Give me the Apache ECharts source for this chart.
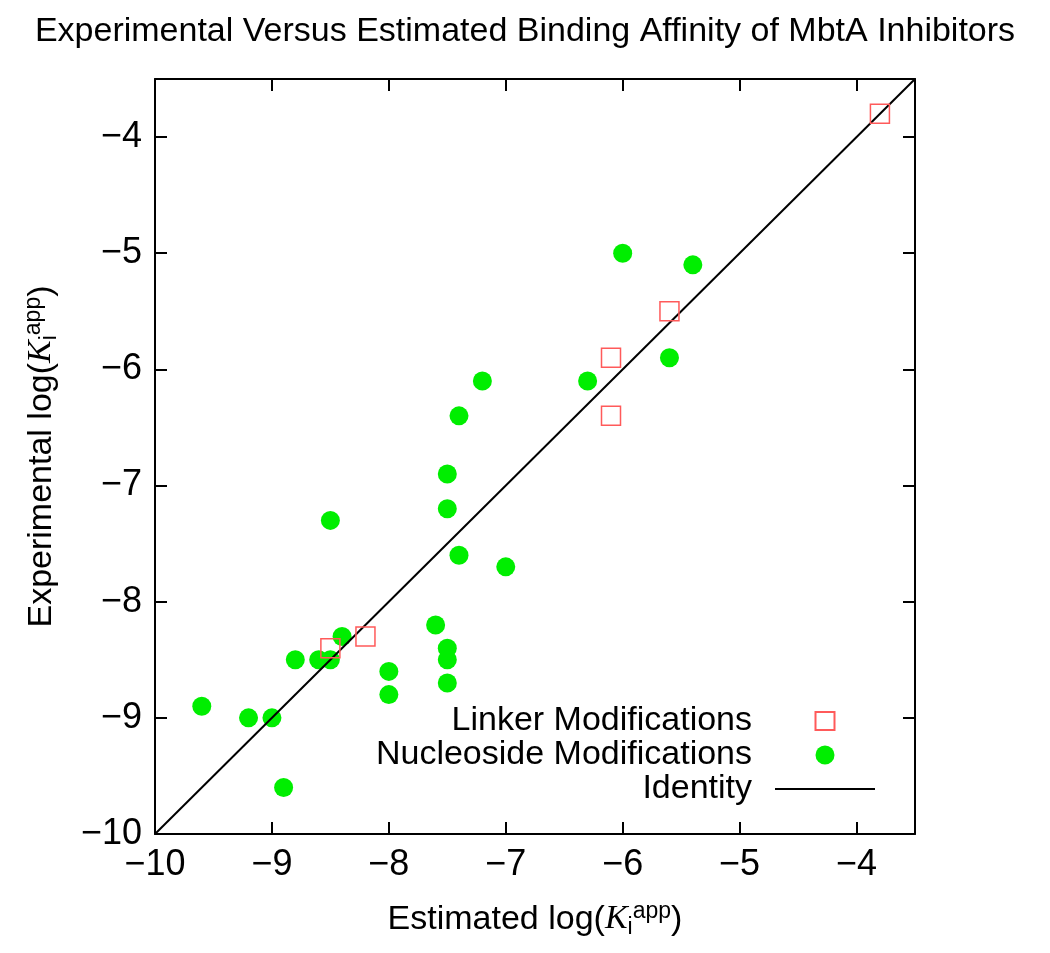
<!DOCTYPE html>
<html>
<head>
<meta charset="utf-8">
<script src="https://cdn.jsdelivr.net/npm/echarts@6/dist/echarts.min.js"></script>
<style>
html,body{margin:0;padding:0;background:#fff;}
#chart{width:1050px;height:953px;}
</style>
</head>
<body>
<div id="chart"></div>
<script>
// Data
var titleText = 'Experimental Versus Estimated Binding Affinity of MbtA Inhibitors';
var xTicks = [-10, -9, -8, -7, -6, -5, -4];
var yTicks = [-10, -9, -8, -7, -6, -5, -4];
var axisMin = -10;
var axisMax = -3.5;

var linkerX = [-8.5, -8.2, -6.1, -6.1, -5.6, -3.8];
var linkerY = [-8.4, -8.3, -5.9, -6.4, -5.5, -3.8];

var nucleosideX = [-6.0, -5.4, -5.6, -7.2, -6.3, -7.4, -7.5, -7.5, -8.5, -7.4, -7.0, -7.6, -8.4, -7.5, -7.5, -7.5, -8.8, -8.6, -8.5, -8.0, -8.0, -9.6, -9.2, -9.0, -8.9];
var nucleosideY = [-5.0, -5.1, -5.9, -6.1, -6.1, -6.4, -6.9, -7.2, -7.3, -7.6, -7.7, -8.2, -8.3, -8.4, -8.5, -8.7, -8.5, -8.5, -8.5, -8.6, -8.8, -8.9, -9.0, -9.0, -9.6];

var identityX = [-10, -3.5];
var identityY = [-10, -3.5];

var seriesNames = ['Linker Modifications', 'Nucleoside Modifications', 'Identity'];

function zip(a, b) { return a.map(function (v, i) { return [v, b[i]]; }); }
function fmt(v) { return String(v).replace('-', '\u2212'); }

var FONT = '"Liberation Sans", Arial, Helvetica, sans-serif';

var nameRich = {
  n: { fontSize: 34, fontFamily: FONT, color: '#000' },
  k: { fontSize: 34, fontFamily: '"Liberation Serif", serif', fontStyle: 'italic', color: '#000' },
  sub: { fontSize: 23, fontFamily: FONT, color: '#000', verticalAlign: 'bottom', padding: [14, 0, 0, 0] },
  sup: { fontSize: 23, fontFamily: FONT, color: '#000', verticalAlign: 'top', padding: [0, 0, 16, 0] }
};

var baseAxis = {
  type: 'value',
  min: axisMin,
  max: axisMax,
  interval: 1,
  axisLine: { show: true, onZero: false, lineStyle: { color: '#000', width: 2 } },
  axisTick: { show: true, inside: true, length: 12, lineStyle: { color: '#000', width: 2 } },
  splitLine: { show: false },
  axisLabel: {
    fontSize: 36, fontFamily: FONT, color: '#000', margin: 13,
    formatter: function (v) { return v > -3.6 ? '' : fmt(v); },
    showMaxLabel: false
  }
};

function axisCopy(extra) {
  var o = JSON.parse(JSON.stringify(baseAxis));
  o.axisLabel.formatter = baseAxis.axisLabel.formatter;
  for (var k in extra) o[k] = extra[k];
  return o;
}

var chart = echarts.init(document.getElementById('chart'), null, { renderer: 'canvas' });

var option = {
  backgroundColor: '#fff',
  animation: false,
  title: {
    text: titleText,
    left: 'center',
    top: 10,
    textStyle: { fontSize: 34, fontWeight: 'normal', fontFamily: FONT, color: '#000' }
  },
  grid: { left: 155, right: 135, top: 79, bottom: 119, containLabel: false },
  xAxis: [
    axisCopy({
      position: 'bottom',
      name: '{n|Estimated log(}{k|K}{sub|i}{sup|app}{n|)}',
      nameLocation: 'middle',
      nameGap: 66,
      nameTextStyle: { rich: nameRich }
    }),
    axisCopy({ position: 'top', axisLabel: { show: false } })
  ],
  yAxis: [
    axisCopy({
      position: 'left',
      name: '{n|Experimental log(}{k|K}{sub|i}{sup|app}{n|)}',
      nameLocation: 'middle',
      nameGap: 94,
      nameTextStyle: { rich: nameRich }
    }),
    axisCopy({ position: 'right', axisLabel: { show: false } })
  ],
  legend: {
    orient: 'vertical',
    align: 'right',
    right: 169,
    top: 699,
    itemWidth: 100,
    itemHeight: 19,
    itemGap: 0,
    symbolKeepAspect: true,
    data: [
      { name: seriesNames[0], icon: 'path://M0,0 M100,19 M40.5,0.5 L59.5,0.5 L59.5,18.5 L40.5,18.5 Z' },
      { name: seriesNames[1], icon: 'circle' },
      { name: seriesNames[2], icon: 'path://M0,0 L100,0 L100,2 L0,2 Z' }
    ],
    textStyle: { fontSize: 34, fontFamily: FONT, color: '#000', lineHeight: 34, padding: [0, 18, 0, 0] }
  },
  series: [
    {
      name: seriesNames[0],
      type: 'scatter',
      symbol: 'rect',
      symbolSize: 19,
      itemStyle: { color: 'rgba(255,255,255,0)', borderColor: '#ff5a5a', borderWidth: 1.5, opacity: 1 },
      data: zip(linkerX, linkerY),
      z: 5
    },
    {
      name: seriesNames[1],
      type: 'scatter',
      symbol: 'circle',
      symbolSize: 19,
      itemStyle: { color: '#00ee00', opacity: 1 },
      data: zip(nucleosideX, nucleosideY),
      z: 3
    },
    {
      name: seriesNames[2],
      type: 'line',
      symbol: 'none',
      showSymbol: false,
      lineStyle: { color: '#000', width: 2 },
      itemStyle: { color: '#000' },
      data: zip(identityX, identityY),
      z: 4
    }
  ]
};

chart.setOption(option);
</script>
</body>
</html>
